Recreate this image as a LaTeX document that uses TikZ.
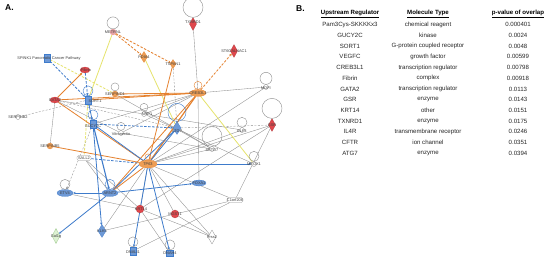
\documentclass[tikz,border=0pt]{standalone}
\usepackage{fontspec}
\setmainfont{Liberation Sans}
\usetikzlibrary{shapes.geometric,arrows.meta}
\pgfdeclarelayer{back}
\pgfdeclarelayer{bg}
\pgfsetlayers{back,bg,main}
\definecolor{rd}{HTML}{E0474C}
\definecolor{orf}{HTML}{EE9E55}
\definecolor{orl}{HTML}{E5812E}
\definecolor{blf}{HTML}{6E99D6}
\definecolor{bll}{HTML}{3E7BCB}
\definecolor{yl}{HTML}{E6E36C}
\definecolor{gy}{HTML}{8E8E8E}
\definecolor{gnf}{HTML}{DDF1D2}
\definecolor{gnl}{HTML}{9CC88B}
\definecolor{pk}{HTML}{E8A3A3}
\newcommand\lp[3][gy]{\draw[#1,line width=0.4pt] (#2.north) ++(0,-#3) circle[radius=#3];}
\tikzset{
 lab/.style={font=\fontsize{3.9}{4}\selectfont, text=black!75, inner sep=0.3pt},
 tb/.style={font=\fontsize{6.1}{7}\selectfont, text=black!85, inner sep=0.5pt},
 hd/.style={font=\fontsize{6.1}{7}\selectfont\bfseries, text=black, inner sep=0.5pt},
 nrd/.style={diamond, aspect=0.55, fill=rd, draw=rd!75!black, line width=0.2pt, inner sep=0, minimum width=7pt, minimum height=13pt},
 nod/.style={diamond, aspect=0.6, fill=orf, draw=orl, line width=0.2pt, inner sep=0, minimum width=7pt, minimum height=11pt},
 nbd/.style={diamond, aspect=0.6, fill=blf, draw=bll, line width=0.2pt, inner sep=0, minimum width=8pt, minimum height=13pt},
 ngd/.style={diamond, aspect=0.6, fill=gnf, draw=gnl, line width=0.3pt, inner sep=0, minimum width=8pt, minimum height=15pt},
 nwd/.style={diamond, aspect=0.6, fill=white, draw=gy, line width=0.3pt, inner sep=0, minimum width=8pt, minimum height=14pt},
 nob/.style={ellipse, fill=orf, draw=orl, line width=0.2pt, inner sep=0, minimum width=16pt, minimum height=7pt},
 nbe/.style={ellipse, fill=blf, draw=bll, line width=0.2pt, inner sep=0, minimum width=16pt, minimum height=7pt},
 nre/.style={ellipse, fill=rd, draw=rd!75!black, line width=0.2pt, inner sep=0, minimum width=10pt, minimum height=6pt},
 nbr/.style={rectangle, fill=blf, draw=bll, line width=0.2pt, inner sep=0, minimum width=6pt, minimum height=8pt},
 ngc/.style={circle, fill=white, draw=gy, line width=0.3pt, inner sep=0, minimum size=5pt},
 nrc/.style={circle, fill=rd, draw=rd!75!black, line width=0.2pt, inner sep=0, minimum size=8pt},
 noc/.style={circle, fill=orf, draw=orl, line width=0.2pt, inner sep=0, minimum size=6pt},
 npk/.style={circle, fill=pk, draw=rd!60, line width=0.2pt, inner sep=0, minimum size=6pt},
 ngr/.style={rectangle, rounded corners=1.5pt, fill=white, draw=gy, line width=0.3pt, inner sep=0, minimum width=14pt, minimum height=5pt},
 ge/.style={draw=gy, line width=0.35pt},
 gd/.style={ge, dash pattern=on 2pt off 1.5pt},
 oe/.style={draw=orl, line width=0.8pt},
 od/.style={oe, dash pattern=on 2.5pt off 1.5pt},
 ye/.style={draw=yl, line width=0.8pt},
 yd/.style={ye, dash pattern=on 2.5pt off 1.5pt},
 be/.style={draw=bll, line width=0.8pt},
 bdsh/.style={be, dash pattern=on 2.5pt off 1.5pt},
 arr/.style={-{Stealth[length=2.6pt,width=2.3pt]}},
}
\begin{document}
\begin{tikzpicture}[x=1pt,y=-1pt]
\useasboundingbox (0,0) rectangle (550,259);
\begin{pgfonlayer}{back}
\fill[white] (0,0) rectangle (550,259);
\end{pgfonlayer}

% ---------- panel labels ----------
\node[font=\fontsize{8.5}{9}\selectfont\bfseries, anchor=west, inner sep=0] (pa) at (5,8) {A.};
\node[font=\fontsize{8.5}{9}\selectfont\bfseries, anchor=west, inner sep=0] (pb) at (296,9) {B.};

% ---------- network nodes ----------
\node[nbr] (spink) at (47,58) {};
\node[nre] (fib) at (85,70) {};
\node[nre] (gata) at (55,100) {};
\node[nbr] (b1) at (88,100) {};
\node[ngc] (serpb2) at (18,117) {};
\node[npk] (pink) at (113,32) {};
\node[nrd] (txn) at (193,24) {};
\node[nrd] (st6) at (234,51) {};
\node[nod] (pdx) at (144,57) {};
\node[nod, minimum width=6pt, minimum height=9pt] (tsn) at (173,64) {};
\node[nob] (creb) at (198,93) {};
\node[ngc] (mdfi) at (266,87) {};
\node[nrd] (gsr) at (272,125) {};
\node[nbd] (bdia) at (177,128) {};
\node[ngc] (nrp) at (144,114) {};
\node[noc] (spd) at (115,94) {};
\node[nbr] (b2) at (93,124) {};
\node[ngc] (vit) at (121,133) {};
\node[noc] (spb5) at (50,146) {};
\node[ngr] (sall) at (84,158) {};
\node[nob, minimum width=18pt, minimum height=8pt] (tp) at (148,164) {};
\node[nbe] (etv) at (65,193) {};
\node[nbe] (klf) at (110,193) {};
\node[ngd] (gal) at (56,236) {};
\node[nbd] (bdia2) at (102,231) {};
\node[nbr] (dnal) at (133,251) {};
\node[nbr, minimum width=7pt, minimum height=6pt] (dnah) at (170,253) {};
\node[nrc] (krt) at (140,209) {};
\node[nrc] (mgst) at (175,214) {};
\node[nbe, minimum width=14pt, minimum height=6pt] (foxa) at (199,183) {};
\node[ngr, minimum width=16pt] (c1) at (235,200) {};
\node[nwd] (ptn) at (212,237) {};
\node[ngc] (setd) at (212,149) {};
\node[ngc] (meox) at (254,164) {};
\node[ngc] (elf) at (242,130) {};

% ---------- loops ----------
\lp[bll]{b1}{5}
\lp{pink}{6}
\lp{txn}{10}
\lp[orl]{creb}{4}
\lp{mdfi}{6}
\lp{gsr}{10}
\lp[bll]{bdia}{9}
\lp{nrp}{4}
\lp{spd}{4}
\lp[bll]{b2}{5}
\lp{vit}{4}
\lp[orl]{tp}{3}
\lp{etv}{5}
\lp[bll]{klf}{5}
\lp{dnal}{5}
\lp{dnah}{5}
\lp{setd}{10}
\lp{meox}{5}
\lp{elf}{5}

% ---------- labels ----------
\node[lab] (lspink) at (49,58) {SPINK1 Pancreatic Cancer Pathway};
\node[lab] (lfib) at (86,70) {Fibrin};
\node[lab] (lgata) at (55,100) {GATA2};
\node[lab] (lb1) at (95,101) {SORT1};
\node[lab] (lserpb2) at (18,117) {SERPINB2};
\node[lab] (lpink) at (113,32) {METRNL};
\node[lab] (ltxn) at (193,22) {TXNRD1};
\node[lab] (lst6) at (234,51) {ST6GALNAC1};
\node[lab] (lpdx) at (144,57) {PDIA4};
\node[lab] (ltsn) at (173,64) {TSPAN1};
\node[lab] (lcreb) at (198,93) {CREB3L1};
\node[lab] (lmdfi) at (266,88) {MDFI};
\node[lab] (lgsr) at (272,125) {GSR};
\node[lab] (lbdia) at (177,131) {ATG7};
\node[lab] (lnrp) at (147,114) {NRP1};
\node[lab] (lspd) at (115,94) {SERPIND1};
\node[lab] (lb2) at (93,126) {GUCY2C};
\node[lab] (lvit) at (121,134) {Vitronectin};
\node[lab] (lspb5) at (50,146) {SERPINB5};
\node[lab] (lsall) at (84,158) {SALL2};
\node[lab] (ltp) at (148,164) {TP63};
\node[lab] (letv) at (65,193) {ETV4};
\node[lab] (lklf) at (110,193) {ARNT2};
\node[lab] (lgal) at (56,236) {Gal1g};
\node[lab] (lbdia2) at (102,231) {KLK5};
\node[lab] (ldnal) at (133,252) {DNALI1};
\node[lab] (ldnah) at (170,253) {DNAH4};
\node[lab] (lkrt) at (141,209) {KRT14};
\node[lab] (lmgst) at (175,214) {MGST1};
\node[lab] (lfoxa) at (199,183) {FOXA1};
\node[lab] (lc1) at (235,200) {C1orf208};
\node[lab] (lptn) at (212,237) {Prss2};
\node[lab] (lsetd) at (212,150) {SETD7};
\node[lab] (lmeox) at (254,164) {MEOX1};
\node[lab] (lelf) at (242,131) {ELF3};

% ---------- edges ----------
\begin{pgfonlayer}{bg}
% gray solid
\draw[ge] (txn) -- (creb);
\draw[ge] (creb) -- (mdfi);
\draw[ge] (creb) -- (foxa);
\draw[ge] (creb) -- (nrp);
\draw[ge] (creb) -- (vit);
\draw[ge] (creb) -- (b2);
\draw[ge] (gata) -- (nrp);
\draw[ge] (gata) -- (vit);
\draw[ge] (gata) -- (spb5);
\draw[ge] (sall) -- (krt);
\draw[ge] (sall) -- (klf);
\draw[ge] (etv) -- (krt);
\draw[ge] (bdia2) -- (mgst);
\draw[ge] (bdia2) -- (tp);
\draw[ge] (tp) -- (setd);
\draw[ge] (tp) -- (elf);
\draw[ge] (tp) -- (gsr);
\draw[ge] (tp) -- (c1);
\draw[ge] (tp) -- (ptn);
\draw[ge] (tp) -- (mgst);
\draw[ge] (tp) -- (krt);
\draw[ge] (tp) -- (mdfi);
\draw[ge] (krt) -- (dnah);
\draw[ge] (krt) -- (ptn);
\draw[ge] (mgst) -- (c1);
\draw[ge] (mgst) -- (ptn);
\draw[ge] (gsr) -- (c1);
\draw[ge] (gsr) -- (krt);
\draw[ge] (nrp) -- (elf);
\draw[ge] (nrp) -- (meox);
\draw[ge] (vit) -- (setd);
\draw[ge] (spd) -- (setd);
\draw[ge] (dnal) -- (c1);
\draw[ge] (bdia) -- (setd);
% gray dashed
\draw[gd] (b1) -- (serpb2);
\draw[gd] (bdia) -- (gsr);
\draw[gd] (tsn) -- (bdia);
\draw[gd] (gata) -- (bdia);
\draw[gd,arr] (b2) -- (etv);
% yellow
\draw[ye] (pink) -- (b1);
\draw[yd] (spink) -- (spd);
\draw[ye] (pdx) -- (bdia);
\draw[ye] (creb) -- (meox);
\draw[yd] (b1) -- (sall);
% orange
\draw[oe,arr] (gata) -- (fib);
\draw[oe] (creb) -- (gata);
\draw[oe] (creb) -- (b1);
\draw[oe] (creb) -- (spd);
\draw[oe] (spb5) -- (tp);
\draw[oe] (gata) -- (tp);
\draw[oe] (tsn) -- (tp);
\draw[oe, line width=1.2pt] (creb) -- (tp);
\draw[oe] (creb) -- (klf);
\draw[oe] (tp) -- (klf);
\draw[od,arr] (pink) -- (pdx);
\draw[od,arr] (pink) -- (tsn);
\draw[od,arr] (creb) -- (st6);
% blue
\draw[be,arr] (b1) -- (b2);
\draw[be,arr, line width=1.1pt] (b2) -- (klf);
\draw[be,arr] (b2) -- (bdia2);
\draw[be,arr] (klf) -- (etv);
\draw[be,arr] (klf) -- (gal);
\draw[be,arr] (klf) -- (foxa);
\draw[be,arr] (tp) -- (meox);
\draw[be,arr] (tp) -- (dnal);
\draw[be,arr] (tp) -- (dnah);
\draw[be] (tp) -- (b2);
\draw[be] (tp) -- (bdia);
\draw[be] (bdia) -- (klf);
\draw[bdsh,arr] (fib) -- (b1);
\draw[bdsh,arr] (spink) -- (b1);
\draw[bdsh,arr] (b2) -- (bdia);
\draw[bdsh] (sall) -- (tp);
\end{pgfonlayer}

% ---------- table ----------
\node[hd] (h1) at (350,13.5) {\underline{Upstream Regulator}};
\node[hd] (h2) at (428,13.5) {\underline{Molecule Type}};
\node[hd] (h3) at (518,13.5) {\underline{p-value of overlap}};
\foreach \a/\b/\c [count=\i from 0] in {
 Pam3Cys-SKKKKx3/chemical reagent/0.000401,
 GUCY2C/kinase/0.0024,
 SORT1/G-protein coupled receptor/0.0048,
 VEGFC/growth factor/0.00599,
 CREB3L1/transcription regulator/0.00798,
 Fibrin/complex/0.00918,
 GATA2/transcription regulator/0.0113,
 GSR/enzyme/0.0143,
 KRT14/other/0.0151,
 TXNRD1/enzyme/0.0175,
 IL4R/transmembrane receptor/0.0246,
 CFTR/ion channel/0.0351,
 ATG7/enzyme/0.0394}{
 \node[tb] (ra\i) at (350,24.7+10.72*\i) {\a};
 \node[tb] (rb\i) at (428,24.7+10.72*\i) {\b};
 \node[tb] (rc\i) at (518,24.7+10.72*\i) {\c};
}
\end{tikzpicture}
\end{document}
